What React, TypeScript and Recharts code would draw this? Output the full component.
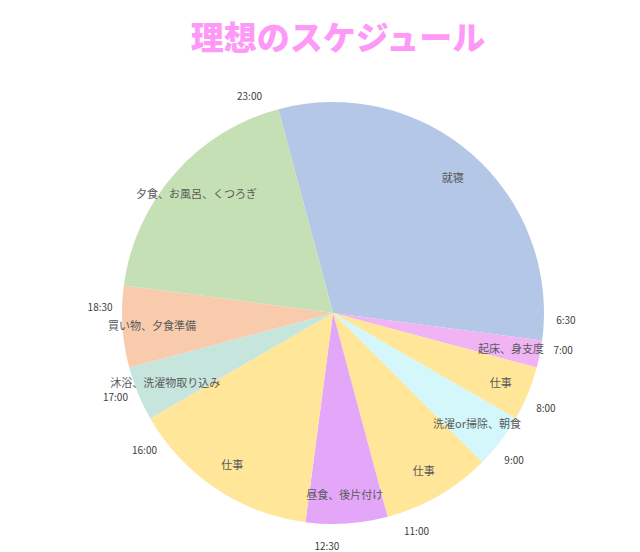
import { PieChart, Pie, Cell } from "recharts";

const activities = [
  "就寝",
  "起床、身支度",
  "仕事",
  "洗濯or掃除、朝食",
  "仕事",
  "昼食、後片付け",
  "仕事",
  "沐浴、洗濯物取り込み",
  "買い物、夕食準備",
  "夕食、お風呂、くつろぎ",
];
const startTimes = ["23:00", "6:30", "7:00", "8:00", "9:00", "11:00", "12:30", "16:00", "17:00", "18:30"];
const hours = [7.5, 0.5, 1, 1, 2, 1.5, 3.5, 1, 1.5, 4.5];
const colors = [
  "#b4c7e7",
  "#f0b3f4",
  "#ffe699",
  "#d4f7fb",
  "#ffe699",
  "#e4a6f9",
  "#ffe699",
  "#c6e6dd",
  "#f8cbad",
  "#c5e0b4",
];

const data = activities.map((name, i) => ({ name, value: hours[i], time: startTimes[i] }));

const RAD = Math.PI / 180;
const FONT = "'Noto Sans CJK JP', 'Noto Sans', sans-serif";

// 扇形の中に項目名、外側に開始時刻を描く
const renderLabel = ({ cx, cy, midAngle, outerRadius, startAngle, index }: any) => {
  const r1 = outerRadius * 0.86;
  const x1 = cx + r1 * Math.cos(-midAngle * RAD);
  const y1 = cy + r1 * Math.sin(-midAngle * RAD);
  const r2 = outerRadius + 22;
  const a2 = startAngle + 6;
  const x2 = cx + r2 * Math.cos(-a2 * RAD);
  const y2 = cy + r2 * Math.sin(-a2 * RAD);
  return (
    <g key={`lbl-${index}`}>
      <text x={x1} y={y1} textAnchor="middle" dominantBaseline="central" fill="#595959" fontSize={11} fontFamily={FONT}>
        {activities[index]}
      </text>
      <text x={x2} y={y2} textAnchor="middle" dominantBaseline="central" fill="#404040" fontSize={10} fontFamily={FONT}>
        {startTimes[index]}
      </text>
    </g>
  );
};

export default function App() {
  return (
    <div style={{ position: "relative", width: 632, height: 544 }}>
      <div
        style={{
          position: "absolute",
          left: 0,
          width: 660,
          top: 8,
          textAlign: "center",
          color: "#ff99f8",
          fontFamily: FONT,
          fontWeight: 900,
          fontSize: 33,
          lineHeight: "40px",
        }}
      >
        理想のスケジュール
      </div>
      <PieChart width={632} height={544}>
        <Pie
          data={data}
          dataKey="value"
          cx={320}
          cy={300}
          outerRadius={211}
          startAngle={105}
          endAngle={-255}
          stroke="none"
          label={renderLabel}
          labelLine={false}
          isAnimationActive={false}
        >
          {data.map((entry, index) => (
            <Cell key={`cell-${index}`} fill={colors[index]} />
          ))}
        </Pie>
      </PieChart>
    </div>
  );
}
